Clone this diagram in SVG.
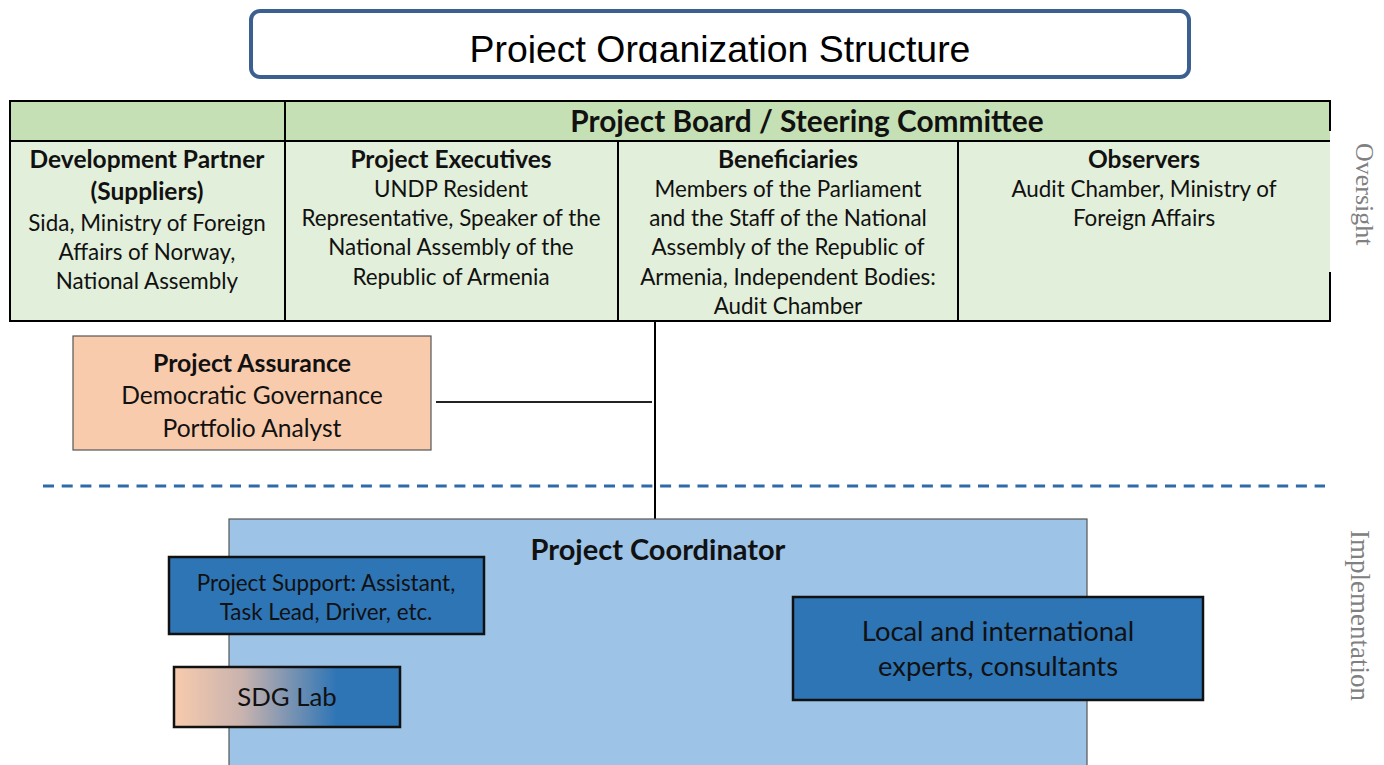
<svg xmlns="http://www.w3.org/2000/svg" width="1384" height="765" viewBox="0 0 1384 765">
  <style>
    .cal { font-family: Lato, "Open Sans", sans-serif; fill: #111; text-anchor: middle; }
    .b { font-weight: bold; }
    .cell { font-size: 22.4px; }
    .cellh { font-size: 24.5px; font-weight: bold; }
    .grid { stroke: #000; stroke-width: 2; fill: none; }
    .side { font-family: "Liberation Serif", serif; fill: #808080; }
    .dark { fill: #2e75b6; stroke: #111; stroke-width: 2.5; }
  </style>
  <defs>
    <clipPath id="titleClip"><rect x="250" y="10" width="940" height="53"/></clipPath>
    <linearGradient id="sdgFill" x1="0" y1="0" x2="1" y2="0">
      <stop offset="0" stop-color="#f8cbad"/>
      <stop offset="0.3" stop-color="#c9b3ae"/>
      <stop offset="0.72" stop-color="#2e75b6"/>
      <stop offset="1" stop-color="#2e75b6"/>
    </linearGradient>
  </defs>

  <rect width="1384" height="765" fill="#fff"/>

  <!-- title banner -->
  <g id="title">
    <rect x="251" y="11" width="938" height="66" rx="9" fill="#fff" stroke="#3b5f8f" stroke-width="4"/>
    <text x="720" y="62" clip-path="url(#titleClip)" font-family="Liberation Sans, Arial, sans-serif" font-size="37.4" fill="#000" text-anchor="middle">Project Organization Structure</text>
  </g>

  <!-- board / steering committee table -->
  <g id="board">
    <rect x="10" y="101" width="1320" height="40" fill="#c5e0b4"/>
    <rect x="10" y="141" width="1320" height="180" fill="#e2efda"/>
    <path class="grid" d="M10 101 H1330 M10 141 H1330 M10 321 H1330 M10 100 V322 M285 101 V321 M618 141 V321 M958 141 V321 M1330 100 V131 M1330 272 V322"/>
    <text class="cal b" x="807" y="132" font-size="29.8">Project Board / Steering Committee</text>
  </g>

  <g id="development-partner">
    <text class="cal cellh" x="147" y="168">Development Partner</text>
    <text class="cal cellh" x="147" y="200">(Suppliers)</text>
    <text class="cal cell" x="147" y="231">Sida, Ministry of Foreign</text>
    <text class="cal cell" x="147" y="260">Affairs of Norway,</text>
    <text class="cal cell" x="147" y="289">National Assembly</text>
  </g>

  <g id="project-executives">
    <text class="cal cellh" x="451" y="168">Project Executives</text>
    <text class="cal cell" x="451" y="197">UNDP Resident</text>
    <text class="cal cell" x="451" y="226">Representative, Speaker of the</text>
    <text class="cal cell" x="451" y="255">National Assembly of the</text>
    <text class="cal cell" x="451" y="285">Republic of Armenia</text>
  </g>

  <g id="beneficiaries">
    <text class="cal cellh" x="788" y="168">Beneficiaries</text>
    <text class="cal cell" x="788" y="197">Members of the Parliament</text>
    <text class="cal cell" x="788" y="226">and the Staff of the National</text>
    <text class="cal cell" x="788" y="255">Assembly of the Republic of</text>
    <text class="cal cell" x="788" y="285">Armenia, Independent Bodies:</text>
    <text class="cal cell" x="788" y="314">Audit Chamber</text>
  </g>

  <g id="observers">
    <text class="cal cellh" x="1144" y="168">Observers</text>
    <text class="cal cell" x="1144" y="197">Audit Chamber, Ministry of</text>
    <text class="cal cell" x="1144" y="226">Foreign Affairs</text>
  </g>

  <!-- connectors -->
  <g id="connectors" stroke-width="2" fill="none">
    <path d="M655 321 V519" stroke="#000"/>
    <path d="M436 402 H652" stroke="#222"/>
    <path d="M43 486 H1325" stroke="#2e6aa8" stroke-width="3" stroke-dasharray="11 7.7"/>
  </g>

  <g id="project-assurance">
    <rect x="73" y="336" width="358" height="114" fill="#f8cbad" stroke="#555" stroke-width="1.2"/>
    <text class="cal b" x="252" y="372" font-size="24.8">Project Assurance</text>
    <text class="cal" x="252" y="404" font-size="24.6">Democratic Governance</text>
    <text class="cal" x="252" y="437" font-size="24.6">Portfolio Analyst</text>
  </g>

  <g id="project-coordinator">
    <rect x="229" y="519" width="858" height="260" fill="#9dc3e6" stroke="#555" stroke-width="1.2"/>
    <text class="cal b" x="658" y="560" font-size="29">Project Coordinator</text>
  </g>

  <g id="project-support">
    <rect class="dark" x="169" y="557" width="315" height="77"/>
    <text class="cal" x="326" y="591" font-size="22.4">Project Support: Assistant,</text>
    <text class="cal" x="326" y="620" font-size="22.4">Task Lead, Driver, etc.</text>
  </g>

  <g id="sdg-lab">
    <rect x="174" y="667" width="226" height="60" fill="url(#sdgFill)" stroke="#111" stroke-width="2.5"/>
    <text class="cal" x="287" y="706" font-size="25.8">SDG Lab</text>
  </g>

  <g id="experts">
    <rect class="dark" x="793" y="597" width="410" height="103"/>
    <text class="cal" x="998" y="641" font-size="27.4">Local and international</text>
    <text class="cal" x="998" y="676" font-size="27.4">experts, consultants</text>
  </g>

  <!-- side labels -->
  <text class="side" font-size="26" transform="translate(1356 143) rotate(90)">Oversight</text>
  <text class="side" font-size="27" transform="translate(1351 530) rotate(90)">Implementation</text>
</svg>
